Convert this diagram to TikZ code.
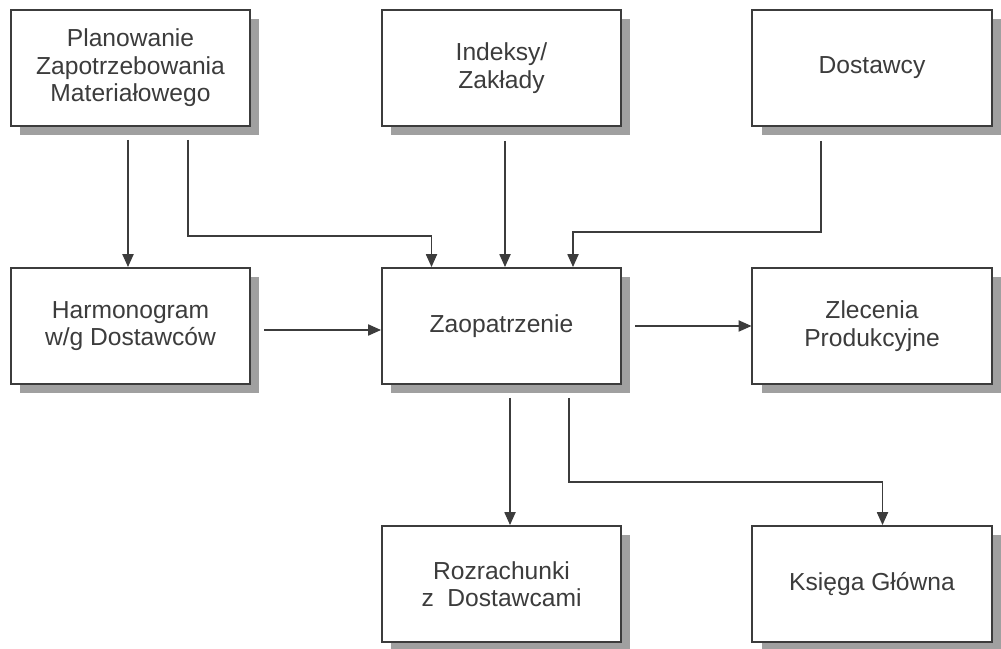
\documentclass[tikz,border=0pt]{standalone}
\usepackage{fontspec}
\setmainfont{Liberation Sans}
\usepackage{xcolor}
\definecolor{inkgray}{RGB}{60,60,60}
\definecolor{shadegray}{RGB}{160,160,160}
\usetikzlibrary{arrows.meta,calc,shadows}

\tikzset{
  modul/.style={draw=inkgray, line width=1.4pt, fill=white, text=inkgray,
    minimum width=5.975cm, minimum height=2.9cm, align=center,
    font=\fontsize{17.5}{19.5}\selectfont,
    drop shadow={shadow xshift=0.23cm, shadow yshift=-0.23cm,
      fill=shadegray, opacity=1}},
  przeplyw/.style={draw=inkgray, line width=0.8pt,
    -{Triangle[length=3.2mm,width=2.8mm]}}
}

\begin{document}
\begin{tikzpicture}[x=0.025cm, y=-0.025cm]
\useasboundingbox (0,0) rectangle (1001,649);
% gorny rzad
\node[modul] (plan) at (130.5,68) {Planowanie\\Zapotrzebowania\\Materiałowego};
\node[modul] (idx) at (501.5,68) {Indeksy/\\Zakłady};
\node[modul] (dost) at (872,68) {Dostawcy};
% srodkowy rzad
\node[modul] (harm) at (130.5,326) {Harmonogram\\w/g Dostawców};
\node[modul] (zaop) at (501.5,326) {Zaopatrzenie};
\node[modul] (zlec) at (872,326) {Zlecenia\\Produkcyjne};
% dolny rzad
\node[modul] (rozr) at (501.5,584) {Rozrachunki\\z\ \ Dostawcami};
\node[modul] (ksieg) at (872,584) {Księga Główna};

% polaczenia
\draw[przeplyw] ($(plan.south)+(-2.5,13)$) -- ($(harm.north)+(-2.5,0)$);
\draw[przeplyw] ($(plan.south)+(57.5,13)$) |- ($(zaop.north)+(-70,-31)$)
    -- ($(zaop.north)+(-70,0)$);
\draw[przeplyw] ($(idx.south)+(3.5,14)$) -- ($(zaop.north)+(3.5,0)$);
\draw[przeplyw] ($(dost.south)+(-51,14)$) |- ($(zaop.north)+(71.5,-35)$)
    -- ($(zaop.north)+(71.5,0)$);
\draw[przeplyw] ($(harm.east)+(13,4)$) -- ($(zaop.west)+(0,4)$);
\draw[przeplyw] ($(zaop.east)+(13,0)$) -- (zlec.west);
\draw[przeplyw] ($(zaop.south)+(8.5,13)$) -- ($(rozr.north)+(8.5,0)$);
\draw[przeplyw] ($(zaop.south)+(67.5,13)$) |- ($(ksieg.north)+(10.5,-43)$)
    -- ($(ksieg.north)+(10.5,0)$);
\end{tikzpicture}
\end{document}
